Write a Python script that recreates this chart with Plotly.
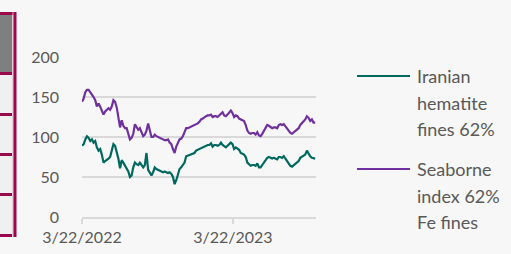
import pandas as pd
import plotly.graph_objects as go

# ---- data ----
start_date = "2022-03-22"
n_points = 142
dates = pd.date_range(start_date, periods=n_points, freq="4D")

seaborne = [144, 148, 156, 159, 159, 155, 153, 150, 146, 138,
            142, 138, 132, 128, 132, 134, 136, 134, 138, 146,
            144, 137, 126, 112, 121, 114, 111, 111, 104, 97,
            99, 104, 116, 112, 109, 111, 106, 101, 103, 108,
            117, 107, 100, 100, 103, 101, 100, 98, 97, 97,
            96, 96, 97, 93, 91, 85, 80, 88, 93, 97,
            98, 101, 106, 111, 111, 112, 113, 113, 114, 116,
            117, 119, 122, 123, 125, 126, 127, 127, 128, 125,
            126, 126, 125, 127, 130, 131, 127, 126, 128, 131,
            133, 130, 125, 127, 126, 123, 122, 121, 120, 115,
            108, 105, 104, 105, 105, 103, 106, 102, 101, 104,
            108, 112, 115, 114, 112, 111, 112, 112, 111, 115,
            116, 115, 116, 113, 110, 107, 105, 104, 106, 107,
            109, 111, 115, 117, 119, 122, 126, 124, 120, 122,
            118, 118]

iranian = [89, 91, 97, 101, 99, 95, 97, 93, 95, 87,
           83, 85, 78, 68, 70, 71, 73, 75, 84, 91,
           89, 82, 73, 61, 71, 68, 64, 62, 57, 50,
           52, 62, 68, 66, 65, 68, 64, 62, 65, 80,
           59, 56, 52, 56, 62, 60, 59, 58, 57, 56,
           57, 56, 55, 56, 54, 50, 41, 46, 54, 60,
           62, 65, 68, 76, 77, 78, 79, 79, 80, 83,
           84, 85, 87, 88, 89, 90, 90, 90, 92, 88,
           90, 90, 89, 90, 93, 90, 88, 87, 89, 91,
           93, 91, 85, 87, 86, 84, 80, 79, 78, 75,
           68, 66, 64, 65, 65, 64, 67, 62, 62, 65,
           68, 71, 74, 75, 74, 73, 74, 73, 72, 75,
           75, 74, 76, 73, 70, 66, 64, 63, 65, 66,
           68, 70, 74, 75, 77, 78, 83, 79, 76, 74,
           73, 73]

series_names = ["Iranian hematite fines 62%", "Seaborne index 62% Fe fines"]
legend_lines = [["Iranian", "hematite", "fines 62%"],
                ["Seaborne", "index 62%", "Fe fines"]]
x_tickvals = ["2022-03-22", "2023-03-22"]
x_ticktext = ["3/22/2022", "3/22/2023"]
y_tickvals = [0, 50, 100, 150, 200]

# ---- style ----
W, H = 511, 254
L, R, T, B = 82, 316, 57, 217
BG = "#f7f7f7"
TEAL = "#00695f"
PURPLE = "#7030a0"
MAROON = "#990a4c"
TXT = "#595959"
GRID = "#d9d9d9"
FONT = "Lato"
FS = 16
FS_LEG = 18

def px(x):
    return (x - L) / (R - L)

def py(y):
    return (B - y) / (B - T)

fig = go.Figure()
fig.add_trace(go.Scatter(x=dates, y=iranian, name=series_names[0], mode="lines",
                         line=dict(color=TEAL, width=2.2)))
fig.add_trace(go.Scatter(x=dates, y=seaborne, name=series_names[1], mode="lines",
                         line=dict(color=PURPLE, width=2.2)))

shapes = []
# left table fragment
def rect(x0, y0, x1, y1, color):
    shapes.append(dict(type="rect", xref="paper", yref="paper",
                       x0=px(x0), x1=px(x1), y0=py(y1), y1=py(y0),
                       fillcolor=color, line=dict(width=0), layer="above"))

rect(0, 75, 12, 234, "#f0f0f0")
rect(0, 15, 12, 72, "#7f7f7f")
rect(0, 12, 13.5, 15, MAROON)
rect(0, 72, 12, 75, MAROON)
for yy in [113, 153, 193, 234]:
    rect(0, yy, 12, yy + 3, MAROON)
rect(12.5, 12, 13.5, 237, "#d7a3bb")
rect(13.5, 12, 16.5, 237, MAROON)

# legend lines
for yy, col in [(76, TEAL), (169, PURPLE)]:
    shapes.append(dict(type="line", xref="paper", yref="paper",
                       x0=px(357), x1=px(410), y0=py(yy), y1=py(yy),
                       line=dict(color=col, width=2)))

annotations = []
for base, lines in zip([76, 169], legend_lines):
    for k, t in enumerate(lines):
        annotations.append(dict(text=t, xref="paper", yref="paper",
                                x=px(415), y=py(base + 26.5 * k),
                                xanchor="left", yanchor="middle", showarrow=False,
                                font=dict(family=FONT, size=FS_LEG, color=TXT)))

fig.update_layout(
    width=W, height=H,
    margin=dict(l=L, r=W - R, t=T, b=H - B, autoexpand=False),
    paper_bgcolor=BG, plot_bgcolor=BG,
    showlegend=False,
    shapes=shapes, annotations=annotations,
    font=dict(family=FONT, size=FS, color=TXT),
)
fig.update_xaxes(
    range=["2022-03-22", "2023-10-09"],
    tickvals=x_tickvals, ticktext=x_ticktext,
    showgrid=False, showline=True, linecolor=GRID, linewidth=1.5,
    ticks="outside", ticklen=5, tickcolor=GRID, tickwidth=1.5,
    tickfont=dict(family=FONT, size=FS, color=TXT),
    automargin=False,
)
fig.update_yaxes(
    range=[0, 200], tickvals=y_tickvals,
    showgrid=True, gridcolor=GRID, gridwidth=1.5,
    zeroline=False, showline=False, ticks="",
    ticklabelstandoff=22,
    tickfont=dict(family=FONT, size=FS, color=TXT),
    automargin=False,
)

fig.write_html(
    "out.html",
    config={"displayModeBar": False},
    post_script="document.body.style.margin='0';document.body.style.overflow='hidden';",
)
